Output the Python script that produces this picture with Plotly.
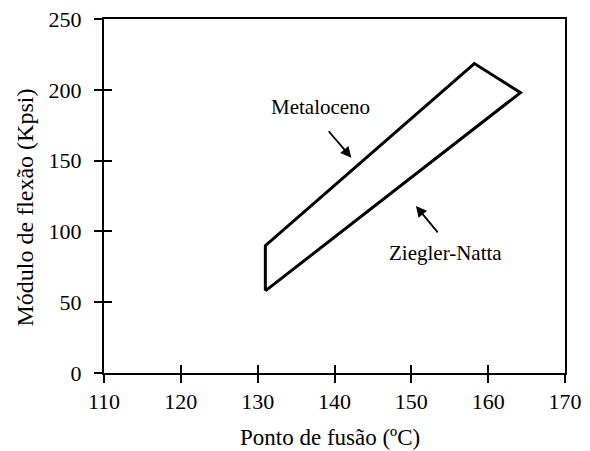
import plotly.graph_objects as go

# Data
region_x = [131.0, 131.0, 158.2, 164.2, 131.0]   # melting point (°C)
region_y = [58, 90, 218.5, 198, 58]               # flexural modulus (Kpsi)
x_ticks = [110, 120, 130, 140, 150, 160, 170]
y_ticks = [0, 50, 100, 150, 200, 250]
x_title = "Ponto de fusão (ºC)"
y_title = "Módulo de flexão (Kpsi)"

FONT = "Liberation Serif"

fig = go.Figure()
fig.add_trace(go.Scatter(x=region_x, y=region_y, mode="lines",
                         line=dict(color="black", width=3), showlegend=False,
                         hoverinfo="skip"))
# helper trace for overlay axes (inside half of crossing ticks)
fig.add_trace(go.Scatter(x=[None], y=[None], xaxis="x2", yaxis="y2",
                         mode="lines", showlegend=False, hoverinfo="skip"))

axis_common = dict(showgrid=False, zeroline=False, linecolor="black", linewidth=2,
                   tickcolor="black", tickwidth=2, ticklen=8, automargin=False,
                   tickfont=dict(family=FONT, size=22, color="black"))

fig.update_layout(
    width=590, height=451,
    margin=dict(l=104, r=25, t=19, b=78),
    paper_bgcolor="white", plot_bgcolor="white",
    font=dict(family=FONT, size=22, color="black"),
    xaxis=dict(range=[110, 170], tickvals=x_ticks, ticks="outside", mirror=True,
               ticklabelstandoff=0, **axis_common),
    yaxis=dict(range=[0, 250], tickvals=y_ticks, ticks="outside", mirror=True,
               ticklabelstandoff=8, **axis_common),
    xaxis2=dict(range=[110, 170], tickvals=x_ticks, ticks="inside", overlaying="x",
                anchor="y2", side="bottom", showticklabels=False, showline=False,
                automargin=False,
                showgrid=False, zeroline=False, tickcolor="black", tickwidth=2, ticklen=8),
    yaxis2=dict(range=[0, 250], tickvals=y_ticks, ticks="inside", overlaying="y",
                anchor="x2", side="left", showticklabels=False, showline=False,
                automargin=False,
                showgrid=False, zeroline=False, tickcolor="black", tickwidth=2, ticklen=8),
)

# Axis titles
fig.add_annotation(x=0.49, y=0, xref="paper", yref="paper", yanchor="middle",
                   yshift=-64, text=x_title, showarrow=False,
                   font=dict(family=FONT, size=23, color="black"))
fig.add_annotation(x=0, y=0.4675, xref="paper", yref="paper", xanchor="center",
                   xshift=-79, textangle=-90, text=y_title, showarrow=False,
                   font=dict(family=FONT, size=24, color="black"))

# Arrows
fig.add_annotation(x=142.2, y=152, ax=-24, ay=-28, xref="x", yref="y", text="",
                   showarrow=True, arrowhead=2, arrowsize=1.2, arrowwidth=1.8,
                   arrowcolor="black")
fig.add_annotation(x=150.6, y=118, ax=23, ay=28, xref="x", yref="y", text="",
                   showarrow=True, arrowhead=2, arrowsize=1.2, arrowwidth=1.8,
                   arrowcolor="black")
# Labels
fig.add_annotation(x=138.2, y=188, xref="x", yref="y", text="Metaloceno",
                   showarrow=False, font=dict(family=FONT, size=21, color="black"))
fig.add_annotation(x=154.4, y=85, xref="x", yref="y", text="Ziegler-Natta",
                   showarrow=False, font=dict(family=FONT, size=21, color="black"))

fig.write_html("out.html", config={"displayModeBar": False},
               post_script="document.body.style.margin='0';document.body.style.overflow='hidden';")
